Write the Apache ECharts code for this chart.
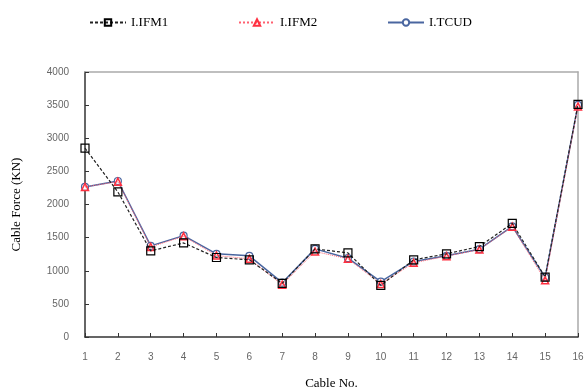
<!DOCTYPE html>
<html>
<head>
<meta charset="utf-8">
<script src="https://cdn.jsdelivr.net/npm/echarts@6/dist/echarts.min.js"></script>
<style>
  html, body { margin: 0; padding: 0; background: #fff; }
  #chart { width: 588px; height: 390px; }
</style>
</head>
<body>
<div id="chart"></div>
<script>
const cables = ['1', '2', '3', '4', '5', '6', '7', '8', '9', '10', '11', '12', '13', '14', '15', '16'];
const ifm1 = [2850, 2190, 1300, 1420, 1200, 1165, 810, 1330, 1270, 780, 1165, 1255, 1365, 1715, 905, 3510];
const ifm2 = [2265, 2345, 1360, 1520, 1230, 1180, 790, 1290, 1180, 800, 1120, 1220, 1320, 1665, 855, 3480];
const tcud = [2265, 2355, 1375, 1530, 1255, 1225, 820, 1330, 1190, 835, 1140, 1225, 1325, 1670, 900, 3505];
const yTicks = [0, 500, 1000, 1500, 2000, 2500, 3000, 3500, 4000];

const chart = echarts.init(document.getElementById('chart'));

const serif = '"Liberation Serif", "DejaVu Serif", serif';
const sans = '"Liberation Sans", Arial, sans-serif';

const legendBase = {
  top: 11,
  itemWidth: 36,
  itemHeight: 8,
  itemGap: 6,
  textStyle: { fontFamily: serif, fontSize: 13, color: '#000' }
};

chart.setOption({
  animation: false,
  legend: [
    Object.assign({}, legendBase, { left: 84, data: ['I.IFM1'] }),
    Object.assign({}, legendBase, { left: 233, data: ['I.IFM2'] }),
    Object.assign({}, legendBase, { left: 382, data: ['I.TCUD'] })
  ],
  grid: { left: 85, right: 10, top: 72, bottom: 53, outerBoundsMode: 'none', containLabel: false },
  xAxis: [
    {
      type: 'category',
      data: cables,
      boundaryGap: false,
      name: 'Cable No.',
      nameLocation: 'middle',
      nameGap: 40,
      nameTextStyle: { fontFamily: serif, fontSize: 13, color: '#000' },
      axisLine: { onZero: false, lineStyle: { color: '#333', width: 1.5 } },
      axisTick: { inside: true, length: 4, alignWithLabel: true, lineStyle: { color: '#333' } },
      axisLabel: { fontFamily: sans, fontSize: 10, color: '#666', margin: 15 },
      splitLine: { show: false }
    },
    {
      type: 'category',
      data: cables,
      boundaryGap: false,
      position: 'top',
      axisLine: { show: true, onZero: false, lineStyle: { color: '#aaa', width: 1.5 } },
      axisTick: { show: false },
      axisLabel: { show: false }
    }
  ],
  yAxis: [
    {
      type: 'value',
      min: yTicks[0],
      max: yTicks[yTicks.length - 1],
      interval: 500,
      name: 'Cable Force (KN)',
      nameLocation: 'middle',
      nameGap: 62,
      nameTextStyle: { fontFamily: serif, fontSize: 13, color: '#000' },
      axisLine: { show: true, onZero: false, lineStyle: { color: '#333', width: 1.5 } },
      axisTick: { show: true, inside: true, length: 4, lineStyle: { color: '#333' } },
      axisLabel: { fontFamily: sans, fontSize: 10, color: '#666', margin: 16, formatter: (v) => String(v) },
      splitLine: { show: false }
    },
    {
      type: 'value',
      min: yTicks[0],
      max: yTicks[yTicks.length - 1],
      interval: 500,
      position: 'right',
      axisLine: { show: true, onZero: false, lineStyle: { color: '#aaa', width: 1.5 } },
      axisTick: { show: false },
      axisLabel: { show: false },
      splitLine: { show: false }
    }
  ],
  series: [
    {
      name: 'I.TCUD',
      type: 'line',
      data: tcud,
      symbol: 'circle',
      symbolSize: 7,
      showAllSymbol: true,
      lineStyle: { color: '#4a66a0', width: 1.5, type: 'solid' },
      itemStyle: { color: '#fff', borderColor: '#4a66a0', borderWidth: 1.2 },
      z: 2
    },
    {
      name: 'I.IFM2',
      type: 'line',
      data: ifm2,
      symbol: 'triangle',
      symbolSize: 7,
      showAllSymbol: true,
      lineStyle: { color: '#ff6070', width: 1, type: 'dotted' },
      itemStyle: { color: 'rgba(255,255,255,0)', borderColor: '#ff3040', borderWidth: 1.5 },
      z: 3
    },
    {
      name: 'I.IFM1',
      type: 'line',
      data: ifm1,
      symbol: 'rect',
      symbolSize: 8,
      showAllSymbol: true,
      lineStyle: { color: '#222', width: 1.2, type: [3, 2] },
      itemStyle: { color: 'rgba(255,255,255,0)', borderColor: '#000', borderWidth: 1.2 },
      z: 4
    }
  ]
});

window.addEventListener('resize', () => chart.resize());
</script>
</body>
</html>
